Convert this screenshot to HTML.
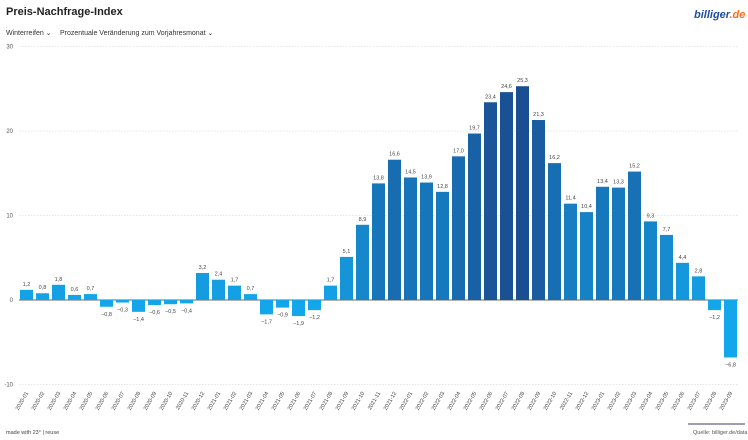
<!DOCTYPE html>
<html><head><meta charset="utf-8"><style>
body{margin:0;background:#fff;font-family:"Liberation Sans",sans-serif;}
svg{display:block}
</style></head><body>
<svg id="chart" width="748" height="440" xmlns="http://www.w3.org/2000/svg">
<text x="6" y="15" font-size="11" font-weight="bold" fill="#222">Preis-Nachfrage-Index</text>
<text x="6" y="35" font-size="7" fill="#333">Winterreifen ⌄</text>
<text x="60" y="35" font-size="7" fill="#333">Prozentuale Veränderung zum Vorjahresmonat ⌄</text>
<text x="694" y="18" font-size="11" font-weight="bold" font-style="italic" fill="#1d4f9c">billiger<tspan fill="#f37021">.de</tspan></text>
<g id="grid"></g><g id="bars"></g><g id="labels"></g><g id="xlabels"></g>
<text x="6" y="434" font-size="5.5" fill="#444">made with 23° | reuse</text>
<line x1="688" y1="424" x2="745" y2="424" stroke="#3a3a6a" stroke-width="1"/>
<text x="693" y="434" font-size="5.5" fill="#555">Quelle: billiger.de/data</text>
</svg>
<script>
const categories=[];
const years=[2020,2021,2022,2023];
years.forEach(y=>{for(let m=1;m<=12;m++){if(y===2023&&m>9)break;categories.push(y+'-'+String(m).padStart(2,'0'));}});
const values=[1.2,0.8,1.8,0.6,0.7,-0.8,-0.3,-1.4,-0.6,-0.5,-0.4,3.2,
2.4,1.7,0.7,-1.7,-0.9,-1.9,-1.2,1.7,5.1,8.9,13.8,16.6,
14.5,13.9,12.8,17.0,19.7,23.4,24.6,25.3,21.3,16.2,11.4,10.4,
13.4,13.3,15.2,9.3,7.7,4.4,2.8,-1.2,-6.8];
const yTicks=[-10,0,10,20,30];
const NS='http://www.w3.org/2000/svg';
const y=v=>300-v*8.45;
const x=i=>20+i*16;
const bw=13;
function mk(t,a){const e=document.createElementNS(NS,t);for(const k in a)e.setAttribute(k,a[k]);return e;}
function col(v){const t=Math.max(0,Math.min(1,v/25.3));
const c0=[20,166,234],c1=[26,78,146];
return 'rgb('+c0.map((c,k)=>Math.round(c+(c1[k]-c)*t)).join(',')+')';}
const g=document.getElementById('grid');
yTicks.forEach(t=>{
const l=mk('line',{x1:19,x2:738,y1:y(t),y2:y(t),stroke:t===0?'#333':'#ccc','stroke-width':t===0?0.8:0.6,'stroke-dasharray':t===0?'':'1.5,1.5'});


g.appendChild(l);
const tx=mk('text',{x:13,y:y(t)+2,'font-size':6,'text-anchor':'end',fill:'#555'});tx.textContent=t;


g.appendChild(tx);});
const b=document.getElementById('bars'),lb=document.getElementById('labels'),xl=document.getElementById('xlabels');
values.forEach((v,i)=>{
const top=Math.min(y(v),y(0)),h=Math.abs(y(v)-y(0));
const r=mk('rect',{x:x(i),y:top,width:bw,height:h,fill:col(v)});


b.appendChild(r);
const t=mk('text',{x:x(i)+bw/2,y:v>=0?y(v)-4:y(v)+9,'font-size':5.5,'text-anchor':'middle',fill:'#444'});
t.textContent=(v<0?'−':'')+Math.abs(v).toFixed(1).replace('.',',');


lb.appendChild(t);
const cx=x(i)+bw/2+2,cy=393;
const xt=mk('text',{x:cx,y:cy,'font-size':5.5,'text-anchor':'end',fill:'#444',transform:'rotate(-60 '+cx+' '+cy+')'});
xt.textContent=categories[i];


xl.appendChild(xt);});
</script>
</body></html>
